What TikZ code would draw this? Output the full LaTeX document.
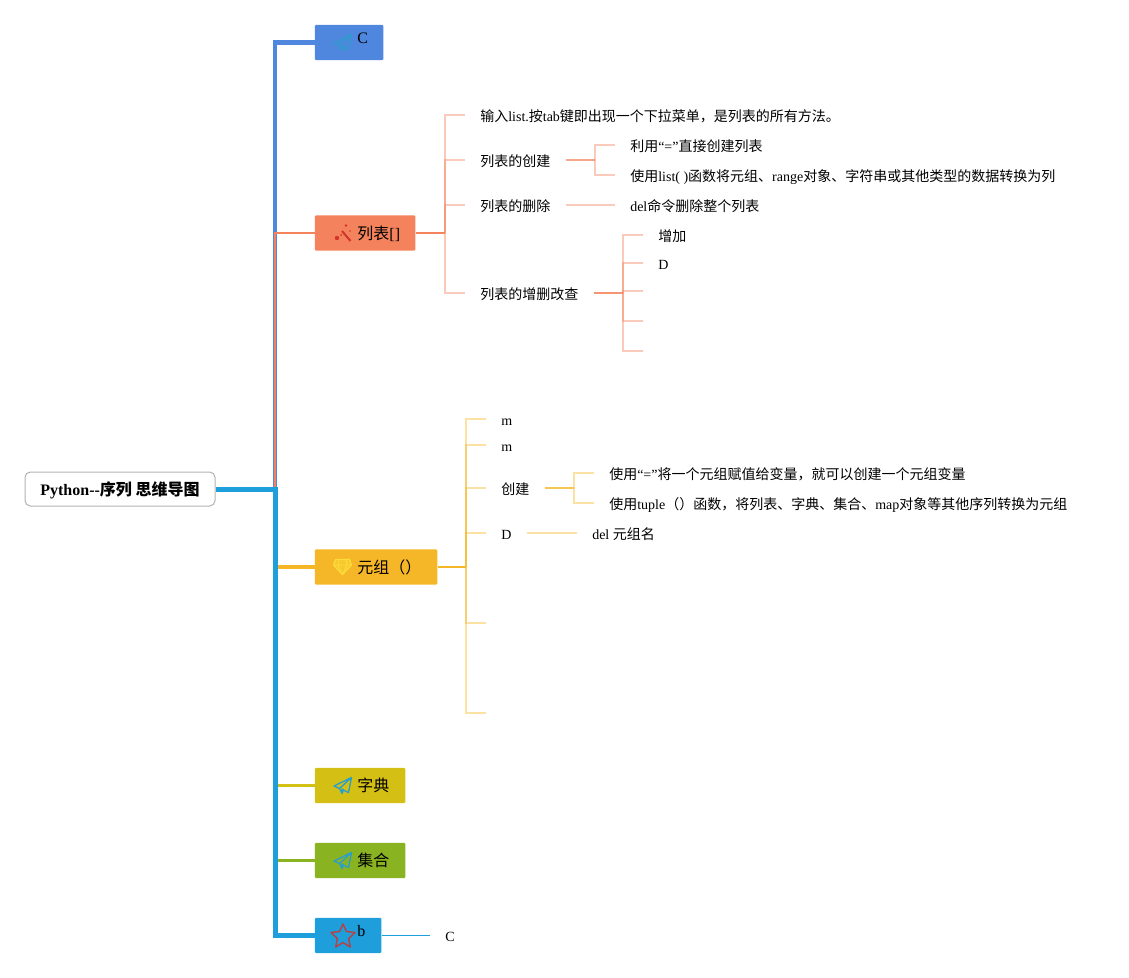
\documentclass[tikz,border=0pt]{standalone}
\usepackage{fontspec}
\setmainfont{Liberation Serif}
\newfontfamily\cjk{Noto Sans CJK SC}
\newcommand{\cn}[1]{{\cjk #1}}
\usetikzlibrary{positioning}

\definecolor{cblue}{HTML}{4F87DF}
\definecolor{listred}{HTML}{F4825C}
\definecolor{tupleyellow}{HTML}{F5B727}
\definecolor{dictyellow}{HTML}{D4BF14}
\definecolor{setgreen}{HTML}{8AB321}
\definecolor{rootblue}{HTML}{1E9FDC}
\definecolor{iconblue}{HTML}{2A9FC9}
\definecolor{iconred}{HTML}{D0342C}
\definecolor{gemyellow}{HTML}{FBDD3C}

\tikzset{
  topic/.style={rectangle,rounded corners=1pt,anchor=west,inner xsep=0pt,inner ysep=0pt,
    minimum height=26.5pt,text width=#1,text height=9pt,text depth=0pt,align=left,
    font=\fontsize{12}{14}\selectfont,execute at begin node=\hspace*{32pt}},
  leaf/.style={anchor=west,inner xsep=11.25pt,inner ysep=0pt,text height=9pt,text depth=0pt,
    font=\fontsize{10.5}{12}\selectfont},
  listline/.style={draw=listred,opacity=0.42,line width=1.1pt},
  tupleline/.style={draw=tupleyellow,opacity=0.42,line width=1.1pt},
  plane/.pic={
    \draw[iconblue,line width=1pt,line join=round]
      (8.5,-8.5) -- (-9,0) -- (-3.5,2.5) -- (-1,7.5) -- (0.5,4) -- (5.5,6.5) -- cycle
      (8.5,-8.5) -- (-3.5,2.5) (-1,7.5) -- (-1,3) -- (0.5,4);
  }
}

\begin{document}
\begin{tikzpicture}[x=0.75pt,y=-0.75pt]
    \useasboundingbox (0,0) rectangle (1129,978);
    \coordinate (SPINE) at (275,489);

    % ROOT
    \node[draw=black!30,line width=0.75pt,rounded corners=4pt,minimum width=142.5pt,minimum height=25.5pt,
      inner sep=0pt,text height=9pt,text depth=0pt,font=\fontsize{12}{14}\selectfont\bfseries] (ROOT) at (120,489)
      {Python-{}-\cn{序列 思维导图}};

    % FIRST LAYER
    \node[topic=51.5pt,fill=cblue] (C_TOPIC) at (314.5,42.5) {\raisebox{4pt}{C}};
    \node[topic=75.5pt,fill=listred] (LIST_TOPIC) at (314.5,233) {\cn{列表}[]};
    \node[topic=92pt,fill=tupleyellow] (TUPLE_TOPIC) at (314.5,567) {\cn{元组（）}};
    \node[topic=68pt,fill=dictyellow] (DICT_TOPIC) at (314.5,785.5) {\cn{字典}};
    \node[topic=68pt,fill=setgreen] (SET_TOPIC) at (314.5,860.5) {\cn{集合}};
    \node[topic=50pt,fill=rootblue] (B_TOPIC) at (314.5,935.5) {\raisebox{4pt}{b}};

    % ICONS
    \pic[opacity=0.8] at (343,43) {plane};
    \pic at (343,786) {plane};
    \pic at (343,861) {plane};
    \draw[iconred,opacity=0.85,line width=1.1pt,line join=round]
      (343,924) -- (346.5,931.5) -- (355,932.5) -- (348.7,938.5) -- (350.3,947)
      -- (343,942.5) -- (335.7,947) -- (337.3,938.5) -- (331,932.5) -- (339.5,931.5) -- cycle;
    \draw[iconred,line width=1.5pt] (342,231) -- (350.5,241);
    \fill[iconred] (337,238) circle (2.2) (341,235) circle (1) (346,225.5) circle (1.3) (350,231) circle (0.8);
    \draw[gemyellow,fill=gemyellow!45!tupleyellow,line width=0.9pt,line join=round]
      (335.5,559.5) -- (349.5,559.5) -- (351.5,565) -- (342.5,574.5) -- (333.5,565) -- cycle;
    \draw[gemyellow,line width=0.6pt] (333.5,565) -- (351.5,565) (339,559.5) -- (338,565) -- (342.5,574.5) -- (347,565) -- (346,559.5);

    % LIST LAYER
    \coordinate (LIST_FORK) at (445,233);
    \node[leaf] (LIST_TIP) at (465,115) {\cn{输入}list.\cn{按}tab\cn{键即出现一个下拉菜单，是列表的所有方法。}};
    \node[leaf] (LIST_NEW) at (465,160) {\cn{列表的创建}};
    \node[leaf] (LIST_DEL) at (465,205) {\cn{列表的删除}};
    \node[leaf] (LIST_EDIT) at (465,293) {\cn{列表的增删改查}};

    \coordinate (NEW_FORK) at (595,160);
    \node[leaf] (NEW_A) at (615,145) {\cn{利用}“=”\cn{直接创建列表}};
    \node[leaf] (NEW_B) at (615,175) {\cn{使用}list( )\cn{函数将元组、}range\cn{对象、字符串或其他类型的数据转换为列}};
    \node[leaf] (DEL_A) at (615,205) {del\cn{命令删除整个列表}};

    \coordinate (EDIT_FORK) at (623,293);
    \node[leaf] (EDIT_A) at (643,235) {\cn{增加}};
    \node[leaf] (EDIT_B) at (643,263) {D};
    \coordinate (EDIT_C) at (643,291);
    \coordinate (EDIT_D) at (643,321);
    \coordinate (EDIT_E) at (643,351);

    % TUPLE LAYER
    \coordinate (TUPLE_FORK) at (466,567);
    \node[leaf] (TUPLE_M1) at (486,419) {m};
    \node[leaf] (TUPLE_M2) at (486,445) {m};
    \node[leaf] (TUPLE_NEW) at (486,488) {\cn{创建}};
    \node[leaf] (TUPLE_D) at (486,533) {D};
    \coordinate (TUPLE_E) at (486,623);
    \coordinate (TUPLE_F) at (486,713);

    \coordinate (TNEW_FORK) at (574,488);
    \node[leaf] (TNEW_A) at (594,473) {\cn{使用}“=”\cn{将一个元组赋值给变量，就可以创建一个元组变量}};
    \node[leaf] (TNEW_B) at (594,503) {\cn{使用}tuple\cn{（）函数，将列表、字典、集合、}map\cn{对象等其他序列转换为元组}};
    \node[leaf] (TDEL_A) at (577,533) {del \cn{元组名}};

    % B LAYER
    \node[leaf] (B_C) at (430,935.5) {C};

    % LINES
    \draw[cblue,line width=3.5pt] (SPINE) |- (C_TOPIC.west);
    \draw[listred,line width=1.5pt] (SPINE) |- (LIST_TOPIC.west);
    \draw[tupleyellow,line width=3pt] (SPINE) |- (TUPLE_TOPIC.west);
    \draw[dictyellow,line width=2.25pt] (SPINE) |- (DICT_TOPIC.west);
    \draw[setgreen,line width=2.25pt] (SPINE) |- (SET_TOPIC.west);
    \draw[rootblue,line width=3.75pt] (ROOT.east) -- (SPINE) |- (B_TOPIC.west);
    \draw[rootblue,line width=1pt] (B_TOPIC.east) -- (B_C.west);

    \draw[listred,line width=1.5pt] (LIST_TOPIC.east) -- (LIST_FORK);
    \foreach \kid in {LIST_TIP,LIST_NEW,LIST_DEL,LIST_EDIT}
      \draw[listline] (LIST_FORK) |- (\kid.west);
    \draw[listred,line width=1.5pt,opacity=0.7] (LIST_NEW.east) -- (NEW_FORK);
    \foreach \kid in {NEW_A,NEW_B}
      \draw[listline] (NEW_FORK) |- (\kid.west);
    \draw[listline] (LIST_DEL.east) -- (DEL_A.west);
    \draw[listred,line width=1.5pt,opacity=0.85] (LIST_EDIT.east) -- (EDIT_FORK);
    \foreach \kid in {EDIT_A.west,EDIT_B.west,EDIT_C,EDIT_D,EDIT_E}
      \draw[listline] (EDIT_FORK) |- (\kid);

    \draw[tupleyellow,line width=1.5pt] (TUPLE_TOPIC.east) -- (TUPLE_FORK);
    \foreach \kid in {TUPLE_M1.west,TUPLE_M2.west,TUPLE_NEW.west,TUPLE_D.west,TUPLE_E,TUPLE_F}
      \draw[tupleline] (TUPLE_FORK) |- (\kid);
    \draw[tupleyellow,line width=1.5pt,opacity=0.8] (TUPLE_NEW.east) -- (TNEW_FORK);
    \foreach \kid in {TNEW_A,TNEW_B}
      \draw[tupleline] (TNEW_FORK) |- (\kid.west);
    \draw[tupleline] (TUPLE_D.east) -- (TDEL_A.west);
\end{tikzpicture}
\end{document}
